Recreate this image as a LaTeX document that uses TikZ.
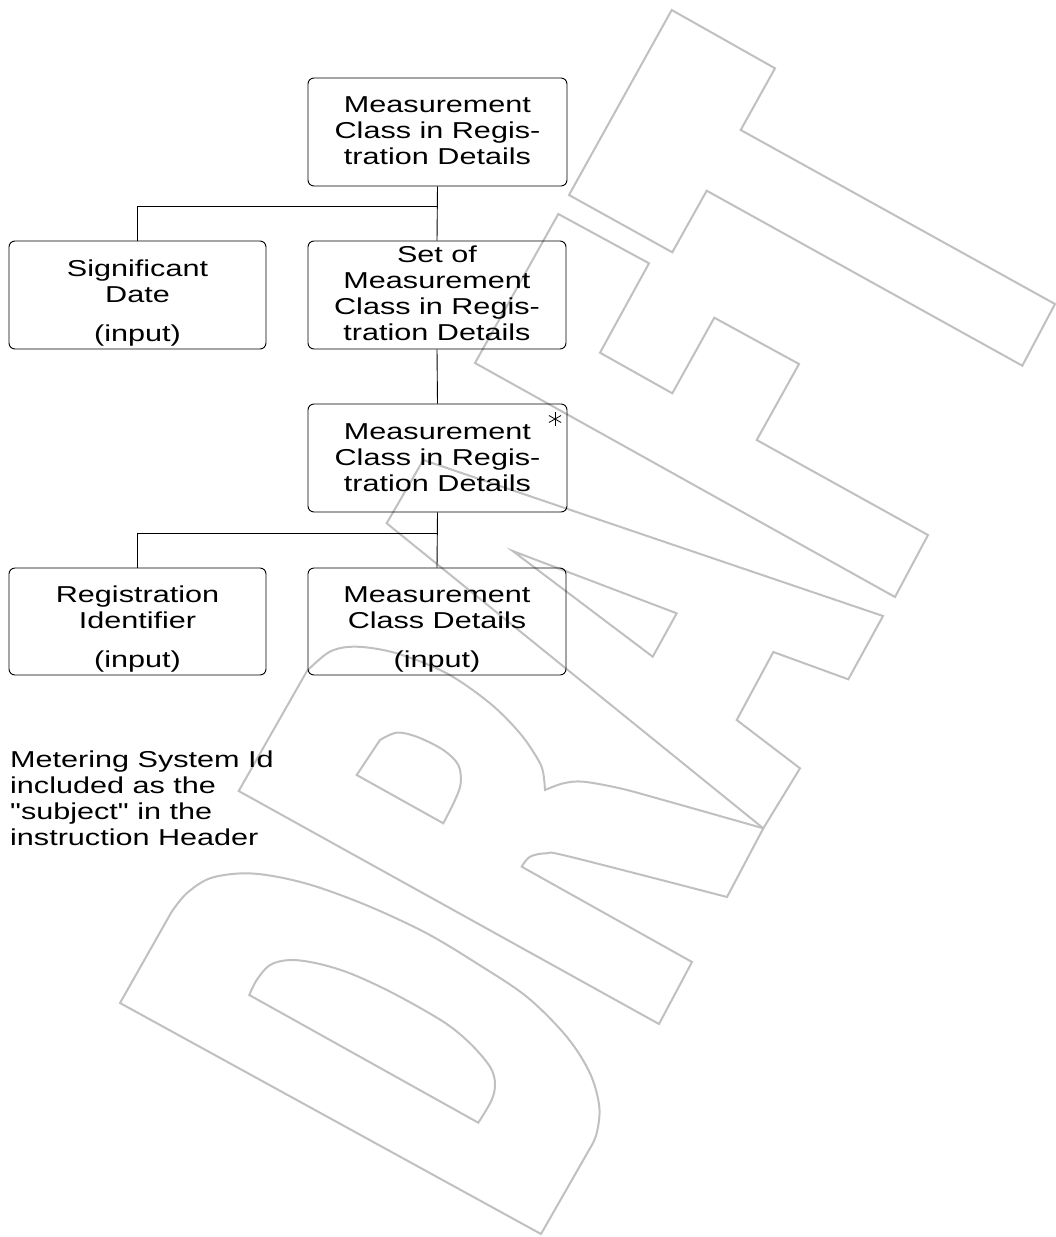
\documentclass[tikz,border=0pt]{standalone}
\usepackage{fontspec}
\setmainfont{Liberation Sans}[FakeStretch=1.33, Ligatures=TeXOff]
\definecolor{wmgray}{HTML}{C0C0C0}
\begin{document}
\begin{tikzpicture}[x=1pt,y=-1pt,
  box/.style={draw=black, line width=0.9pt, rounded corners=6pt, inner sep=0pt},
  txt/.style={font=\fontsize{23}{26}\selectfont, align=center, inner sep=0pt, text=black},
  conn/.style={draw=black, line width=0.9pt},
  wm/.style={draw=wmgray, line width=2pt, line join=miter},
  sm/.style={smooth, tension=0.55}]
\useasboundingbox (0,0) rectangle (1056,1237);

% ---------- DRAFT watermark ----------
% D
\draw[wm] (120,1003) -- (171.7,911.7) -- plot[sm] coordinates {(171.7,911.7) (186.7,893.3) (210,878.3) (243.3,873.3) (276.7,876.7) (316.7,886.7) (370,906.7) (426.7,933.3) (476.7,963.3) (526.7,996.7) (566.7,1036.7) (590,1073.3) (599.3,1106.7) (596.7,1133.3) (590,1148.3)} -- (541,1234) -- cycle;
\draw[wm] (249.3,995) -- plot[sm] coordinates {(249.3,995) (256.7,980) (270,965) (290,960) (316.7,963.3) (350,973.3) (393.3,993.3) (443.3,1021.7) (470,1043.3) (490,1066.7) (495,1083.3) (491.7,1100) (478.3,1122.7)} -- cycle;
% R
\draw[wm] (238.7,791) -- (307,671) -- plot[sm] coordinates {(307,671) (330,651.6) (356.7,646.7) (396.7,653.3) (446.7,673.3) (490,703.3) (520,733.3) (538.3,760) (543.3,773.3) (545,790)}
  -- plot[sm] coordinates {(545,790) (563.3,783.3) (583.3,781.7) (620,788.3) (663.3,800) (763.3,828.3)}
  -- (727,897) -- plot[sm] coordinates {(727,897) (570,856.7) (546.7,853.3) (530,856.7) (521.7,866.7)}
  -- (692,962) -- (659,1024) -- cycle;
\draw[wm] (356.7,775) -- (380,740) -- plot[sm] coordinates {(380,740) (396.7,732.7) (416.7,736.7) (443.3,750) (458.3,765) (460.7,783.3) (455,800) (443.3,823.3)} -- cycle;
% A
\draw[wm] (423.3,460) -- (883,616) -- (848.3,679.3) -- (773.3,652) -- (736.7,720) -- (800,768.3) -- (763.3,828.3) -- (386.7,523.3) -- cycle;
\draw[wm] (512.7,551) -- (676.7,613.3) -- (652.7,656.7) -- cycle;
% F
\draw[wm] (558.3,214) -- (649,263.3) -- (600,352.7) -- (672.3,393.3) -- (714.3,317.7) -- (799,364) -- (756.7,440) -- (928,535) -- (895,597) -- (475,363) -- cycle;
% T
\draw[wm] (671.7,10) -- (775,68.3) -- (740.7,130) -- (1055,304) -- (1022.3,365.7) -- (706.7,190.7) -- (672.3,252.3) -- (569,195) -- cycle;

% ---------- boxes ----------
\node[box, minimum width=259pt, minimum height=108pt] (b1) at (437.5,132) {};
\node[box, minimum width=257pt, minimum height=108pt] (b2) at (137.5,295) {};
\node[box, minimum width=258pt, minimum height=108pt] (b3) at (437,295) {};
\node[box, minimum width=259pt, minimum height=108pt] (b4) at (437.5,458) {};
\node[box, minimum width=257pt, minimum height=107pt] (b5) at (137.5,621.5) {};
\node[box, minimum width=258pt, minimum height=107pt] (b6) at (437,621.5) {};

% ---------- texts ----------
\node[txt, anchor=north] (t1) at (437.5,96) {Measurement\\Class in Regis-\\tration Details};
\node[txt, anchor=north] (t2) at (137.5,259.5) {Significant\\Date};
\node[txt, anchor=base] (t2i) at (137.5,341) {(input)};
\node[txt, anchor=north] (t3) at (437,246) {Set of\\Measurement\\Class in Regis-\\tration Details};
\node[txt, anchor=north] (t4) at (437.5,423) {Measurement\\Class in Regis-\\tration Details};
\node[txt, anchor=north] (t5) at (137.5,586) {Registration\\Identifier};
\node[txt, anchor=base] (t5i) at (137.5,667) {(input)};
\node[txt, anchor=north] (t6) at (437,586) {Measurement\\Class Details};
\node[txt, anchor=base] (t6i) at (437,667) {(input)};
\node[txt, align=left, anchor=north west] (note) at (10,751) {Metering System Id\\included as the\\"subject" in the\\instruction Header};

% iteration mark
\coordinate (ast) at (555,419);
\draw[black, line width=0.8pt] ([shift={(0,-7)}]ast) -- ([shift={(0,7)}]ast);
\draw[black, line width=0.8pt] ([shift={(-6.1,-3.5)}]ast) -- ([shift={(6.1,3.5)}]ast);
\draw[black, line width=0.8pt] ([shift={(-6.1,3.5)}]ast) -- ([shift={(6.1,-3.5)}]ast);

% ---------- connectors ----------
\coordinate (j1) at (437,206);
\coordinate (j2) at (437,533);
\draw[conn] (b1.south) -- (b3.north);
\draw[conn] (j1) -| (b2.north);
\draw[conn] (b3.south) -- (b4.north);
\draw[conn] (b4.south) -- (b6.north);
\draw[conn] (j2) -| (b5.north);
\end{tikzpicture}
\end{document}
